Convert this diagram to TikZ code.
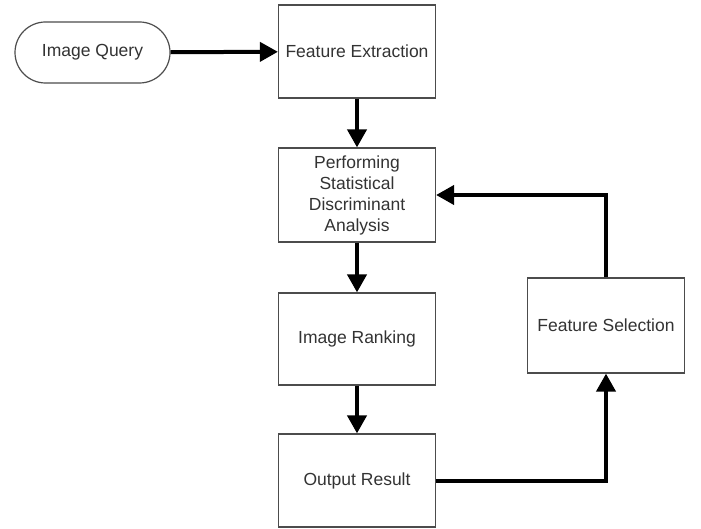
\documentclass[tikz,border=0pt]{standalone}
\usepackage{fontspec}
\setmainfont{Liberation Sans}
\usetikzlibrary{arrows.meta,shapes.misc}
\begin{document}
\begin{tikzpicture}[x=1pt,y=-1pt,
  label text/.style={font=\fontsize{17.5}{21}\selectfont,text=black!80},
  box/.style={label text,draw=black!70,line width=1.2pt,minimum width=157pt,
    minimum height=93pt,inner sep=0pt,align=center},
  terminal/.style={label text,draw=black!70,line width=1.2pt,rounded rectangle,
    minimum width=155pt,minimum height=61pt,inner sep=0pt},
  flow/.style={line width=4pt,draw=black,-{Triangle[width=19pt,length=18pt]}}]
  \useasboundingbox[fill=white] (0,0) rectangle (701,529);

  % stages of the retrieval pipeline
  \node[terminal] (query) at (92.5,52.5) {Image Query};
  \node[box] (extract) at (357,51.5) {Feature Extraction};
  \node[box,minimum height=94pt] (sda) at (357,195)
    {Performing\\Statistical\\Discriminant\\Analysis};
  \node[box,minimum height=92pt] (rank) at (357,339) {Image Ranking};
  \node[box] (result) at (357,480.5) {Output Result};
  \node[box,minimum height=95pt] (select) at (606,325.5) {Feature Selection};

  % main flow
  \draw[flow] (query) -- (extract);
  \draw[flow] (extract) -- (sda);
  \draw[flow] (sda) -- (rank);
  \draw[flow] (rank) -- (result);

  % feedback loop
  \draw[flow] (result.east) -| (select.south);
  \draw[flow] (select.north) |- (sda.east);
\end{tikzpicture}
\end{document}
